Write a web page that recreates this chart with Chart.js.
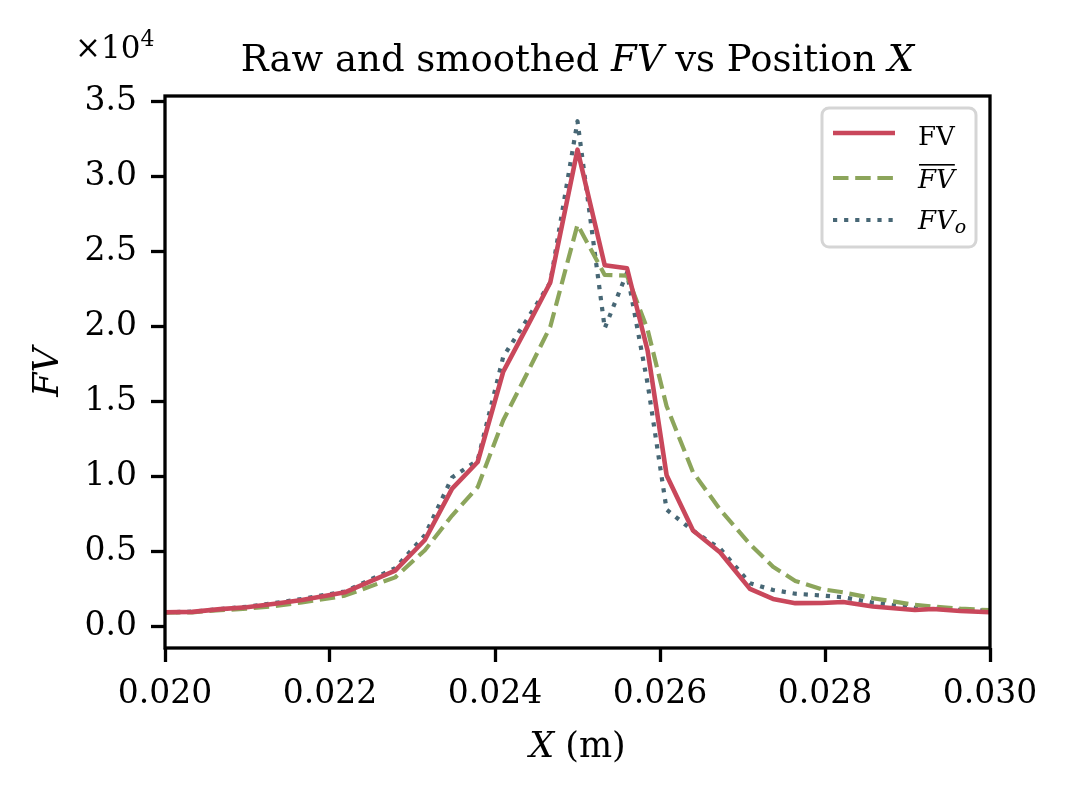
<!DOCTYPE html>
<html>
<head>
<meta charset="utf-8">
<script src="https://cdn.jsdelivr.net/npm/chart.js@4.4.1/dist/chart.umd.min.js"></script>
<style>
  html, body { margin: 0; padding: 0; background: #fff; }
  canvas { display: block; }
</style>
</head>
<body>
<canvas id="fvChart" width="1067" height="797"></canvas>
<script>
// position along X (m)
const xPos = [
  0.02000, 0.02033, 0.02067, 0.02099, 0.02133, 0.02166, 0.02200, 0.02218,
  0.02279, 0.02315, 0.02348, 0.02379, 0.02410, 0.02439, 0.02467, 0.02500,
  0.02533, 0.02560, 0.02585, 0.02608, 0.02640, 0.02673, 0.02709, 0.02737,
  0.02764, 0.02796, 0.02822, 0.02858, 0.02909, 0.02931, 0.02964, 0.03000,
];
// raw FV
const fvRaw = [
  960, 990, 1170, 1300, 1530, 1780, 2120, 2290,
  3740, 5780, 9200, 10980, 17000, 20000, 22950, 31800,
  24100, 23900, 18400, 10100, 6410, 4950, 2520, 1850,
  1570, 1580, 1650, 1350, 1110, 1180, 1050, 960,
];
// smoothed FV (overline)
const fvSmooth = [
  940, 960, 1100, 1200, 1380, 1620, 1900, 2070,
  3290, 5100, 7410, 9300, 13760, 16900, 20000, 26800,
  23450, 23400, 19800, 14700, 10300, 7800, 5500, 4000,
  3050, 2500, 2290, 1900, 1450, 1350, 1200, 1100,
];
// FV_o
const fvOpt = [
  960, 1000, 1180, 1330, 1580, 1850, 2180, 2350,
  3900, 6100, 9950, 11100, 18000, 20500, 22950, 33700,
  19900, 23600, 16200, 7800, 6400, 5200, 2900, 2450,
  2200, 2080, 1960, 1600, 1250, 1200, 1120, 1070,
];
const xTicks = [0.020, 0.022, 0.024, 0.026, 0.028, 0.030];
const yTicks = [0, 5000, 10000, 15000, 20000, 25000, 30000, 35000];

const SERIF = '"DejaVu Serif", serif';
const colRaw = '#c9475b';
const colSmooth = '#8ca55b';
const colOpt = '#476775';

function pts(arr) {
  return xPos.map((x, i) => ({ x: x, y: arr[i] }));
}

// draw a row of text pieces with different fonts
function drawRuns(ctx, runs, x, y, align) {
  let total = 0;
  runs.forEach(r => { ctx.font = r.font; total += ctx.measureText(r.t).width; });
  let cx = align === 'center' ? x - total / 2 : x;
  runs.forEach(r => {
    ctx.font = r.font;
    ctx.fillText(r.t, cx, y + (r.dy || 0));
    cx += ctx.measureText(r.t).width;
  });
}

const decor = {
  id: 'decor',
  afterDatasetsDraw(chart) {
    const { ctx, chartArea: a } = chart;
    ctx.save();
    ctx.strokeStyle = '#000';
    ctx.lineWidth = 3.3;
    ctx.strokeRect(a.left, a.top, a.right - a.left, a.bottom - a.top);
    ctx.restore();
  },
  afterDraw(chart) {
    const { ctx, chartArea: a } = chart;
    const mid = (a.left + a.right) / 2;
    ctx.save();
    ctx.fillStyle = '#000';
    ctx.textBaseline = 'alphabetic';

    // title
    drawRuns(ctx, [
      { t: 'Raw and smoothed ', font: '37px ' + SERIF },
      { t: 'FV', font: 'italic 37px ' + SERIF },
      { t: ' vs Position ', font: '37px ' + SERIF },
      { t: 'X', font: 'italic 37px ' + SERIF },
    ], mid, 71, 'center');

    // x label
    drawRuns(ctx, [
      { t: 'X', font: 'italic 35px ' + SERIF },
      { t: ' (m)', font: '35px ' + SERIF },
    ], mid, 757, 'center');

    // y label
    ctx.save();
    ctx.translate(58, (a.top + a.bottom) / 2);
    ctx.rotate(-Math.PI / 2);
    drawRuns(ctx, [{ t: 'FV', font: 'italic 35px ' + SERIF }], 0, 0, 'center');
    ctx.restore();

    // offset text
    drawRuns(ctx, [
      { t: '\u00d710', font: '31px ' + SERIF },
      { t: '4', font: '22px ' + SERIF, dy: -12 },
    ], 75, 58, 'left');

    // legend
    const lx = 822, ly = 108, lw = 154, lh = 139;
    ctx.beginPath();
    ctx.roundRect(lx, ly, lw, lh, 7);
    ctx.fillStyle = 'rgba(255,255,255,0.8)';
    ctx.fill();
    ctx.strokeStyle = '#d5d5d5';
    ctx.lineWidth = 3;
    ctx.stroke();

    const rows = [
      { y: 133, color: colRaw, dash: [] },
      { y: 178, color: colSmooth, dash: [15.5, 6.7] },
      { y: 220, color: colOpt, dash: [4.2, 6.9] },
    ];
    rows.forEach(r => {
      ctx.beginPath();
      ctx.setLineDash(r.dash);
      ctx.strokeStyle = r.color;
      ctx.lineWidth = r.dash.length ? 4.2 : 4.6;
      ctx.moveTo(833, r.y);
      ctx.lineTo(895, r.y);
      ctx.stroke();
    });
    ctx.setLineDash([]);
    ctx.fillStyle = '#000';
    const tx = 918;
    drawRuns(ctx, [{ t: 'FV', font: '26px ' + SERIF }], tx, 145, 'left');
    drawRuns(ctx, [{ t: 'FV', font: 'italic 26px ' + SERIF }], tx, 188, 'left');
    ctx.font = 'italic 26px ' + SERIF;
    const w2 = ctx.measureText('FV').width;
    ctx.fillRect(tx + 1, 164, w2 - 1, 1.6);
    drawRuns(ctx, [
      { t: 'FV', font: 'italic 26px ' + SERIF },
      { t: 'o', font: 'italic 19px ' + SERIF, dy: 4 },
    ], tx, 229, 'left');
    ctx.restore();
  },
};

const lineStyle = {
  pointRadius: 0,
  tension: 0,
  borderJoinStyle: 'round',
  borderCapStyle: 'butt',
};

new Chart(document.getElementById('fvChart').getContext('2d'), {
  type: 'line',
  data: {
    datasets: [
      Object.assign({
        label: 'FV',
        data: pts(fvRaw),
        borderColor: colRaw,
        borderWidth: 4.6,
      }, lineStyle),
      Object.assign({
        label: 'FV smoothed',
        data: pts(fvSmooth),
        borderColor: colSmooth,
        borderWidth: 4.2,
        borderDash: [15.5, 6.7],
      }, lineStyle),
      Object.assign({
        label: 'FV_o',
        data: pts(fvOpt),
        borderColor: colOpt,
        borderWidth: 4.2,
        borderDash: [4.2, 6.9],
      }, lineStyle),
    ],
  },
  options: {
    responsive: false,
    animation: false,
    devicePixelRatio: 1,
    layout: {
      padding: { left: 0, right: 77, top: 96, bottom: 0 },
    },
    plugins: {
      legend: { display: false },
      title: { display: false },
      tooltip: { enabled: false },
    },
    scales: {
      x: {
        type: 'linear',
        min: 0.02,
        max: 0.03,
        afterBuildTicks: (s) => { s.ticks = xTicks.map(v => ({ value: v })); },
        afterFit: (s) => { s.height = 149; },
        border: { display: false },
        grid: {
          drawOnChartArea: false,
          tickLength: 14,
          tickWidth: 3.3,
          tickColor: '#000',
        },
        ticks: {
          autoSkip: false,
          maxRotation: 0,
          padding: 13,
          color: '#000',
          font: { family: SERIF, size: 33 },
          callback: (v) => v.toFixed(3),
        },
      },
      y: {
        type: 'linear',
        min: -1420,
        max: 35380,
        afterBuildTicks: (s) => { s.ticks = yTicks.map(v => ({ value: v })); },
        afterFit: (s) => { s.width = 165; },
        border: { display: false },
        grid: {
          drawOnChartArea: false,
          tickLength: 14,
          tickWidth: 3.3,
          tickColor: '#000',
        },
        ticks: {
          padding: 14,
          color: '#000',
          font: { family: SERIF, size: 33 },
          callback: (v) => (v / 10000).toFixed(1),
        },
      },
    },
  },
  plugins: [decor],
});
</script>
</body>
</html>
